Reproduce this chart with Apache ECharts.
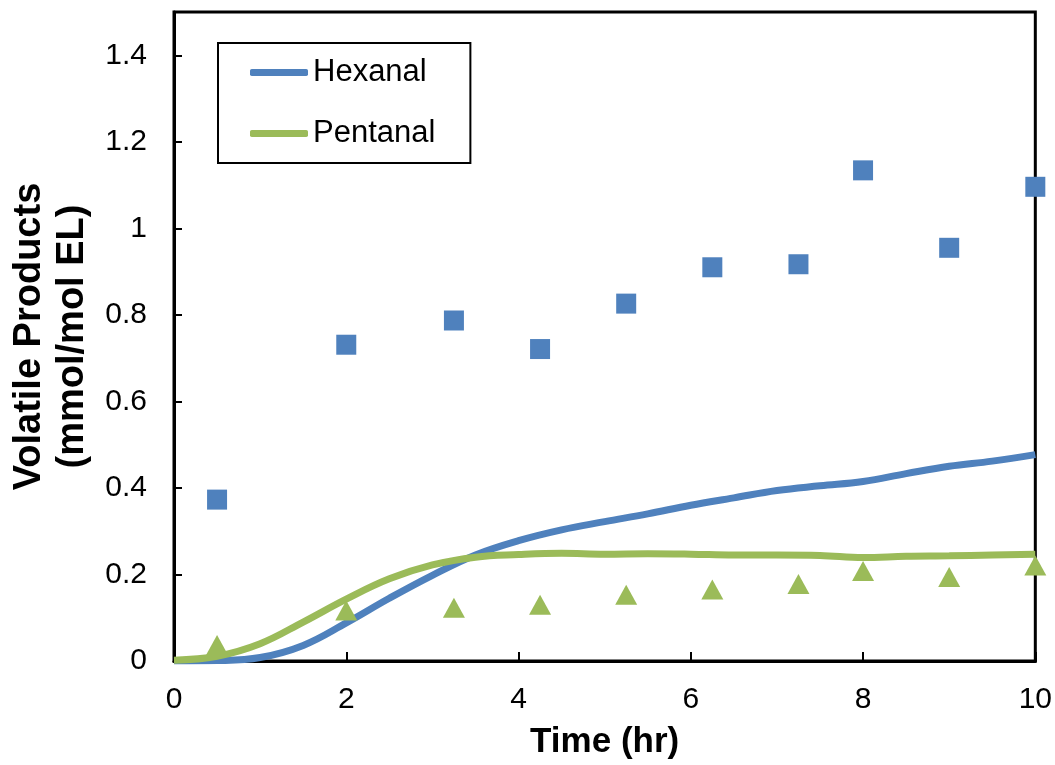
<!DOCTYPE html>
<html>
<head>
<meta charset="utf-8">
<script src="https://cdn.jsdelivr.net/npm/echarts@6/dist/echarts.min.js"></script>
<style>
  html, body { margin: 0; padding: 0; background: #fff; }
  #chart { width: 1055px; height: 765px; }
</style>
</head>
<body>
<div id="chart"></div>
<script>
// Measured volatile products (mmol/mol EL) against time (hr)
const hexanalTimes = [0.5, 2, 3.25, 4.25, 5.25, 6.25, 7.25, 8, 9, 10];
const hexanalMeasured = [0.373, 0.731, 0.787, 0.721, 0.826, 0.910, 0.917, 1.134, 0.955, 1.096];
const pentanalTimes = [0.5, 2, 3.25, 4.25, 5.25, 6.25, 7.25, 8, 9, 10];
const pentanalMeasured = [0.037, 0.117, 0.123, 0.130, 0.153, 0.165, 0.178, 0.208, 0.194, 0.221];

// Model curves
const modelTimes = [0, 0.5, 1, 1.5, 2, 2.5, 3, 3.5, 4, 4.5, 5, 5.5, 6, 6.5, 7, 7.5, 8, 8.5, 9, 9.5, 10];
const hexanalModel = [0, 0.001, 0.008, 0.036, 0.088, 0.145, 0.198, 0.245, 0.278, 0.303, 0.322, 0.340, 0.360, 0.377, 0.394, 0.405, 0.415, 0.433, 0.450, 0.462, 0.477];
const pentanalModel = [0.002, 0.011, 0.040, 0.090, 0.143, 0.190, 0.222, 0.240, 0.246, 0.249, 0.247, 0.248, 0.247, 0.245, 0.245, 0.244, 0.239, 0.242, 0.243, 0.245, 0.247];

const xTicks = { min: 0, max: 10, interval: 2 };
const yTicks = { min: 0, max: 1.5, interval: 0.2 };

const BLUE = '#4F81BD';
const GREEN = '#9BBB59';
const FONT = '"Liberation Sans", Arial, sans-serif';

const zip = (xs, ys) => xs.map((x, i) => [x, ys[i]]);

const chart = echarts.init(document.getElementById('chart'), null, { renderer: 'canvas' });
chart.setOption({
  animation: false,
  backgroundColor: '#fff',
  grid: {
    left: 170, top: 12, right: 19, bottom: 104,
    show: true, borderColor: '#000', borderWidth: 3, backgroundColor: 'transparent'
  },
  legend: {
    data: ['Hexanal', 'Pentanal'],
    orient: 'vertical',
    left: 218, top: 43,
    padding: [14, 35, 14, 32],
    itemGap: 30,
    itemWidth: 58,
    itemHeight: 7,
    icon: 'roundRect',
    borderColor: '#000',
    borderWidth: 2,
    textStyle: { fontFamily: FONT, fontSize: 31, lineHeight: 31, color: '#000' }
  },
  xAxis: {
    type: 'value',
    min: xTicks.min, max: xTicks.max, interval: xTicks.interval,
    name: 'Time (hr)',
    nameLocation: 'middle',
    nameGap: 64,
    nameTextStyle: { fontFamily: FONT, fontSize: 35, fontWeight: 'bold', color: '#000' },
    axisLine: { lineStyle: { color: '#000', width: 3 } },
    axisTick: { inside: true, length: 9, lineStyle: { color: '#000', width: 2 } },
    axisLabel: { margin: 24, fontFamily: FONT, fontSize: 30, color: '#000' },
    splitLine: { show: false }
  },
  yAxis: {
    type: 'value',
    min: yTicks.min, max: yTicks.max, interval: yTicks.interval,
    name: 'Volatile Products\n(mmol/mol EL)',
    nameLocation: 'middle',
    nameGap: 80,
    nameTextStyle: { fontFamily: FONT, fontSize: 38, fontWeight: 'bold', color: '#000', lineHeight: 43, align: 'center' },
    axisLine: { lineStyle: { color: '#000', width: 3 } },
    axisTick: { inside: true, length: 8, lineStyle: { color: '#000', width: 2 } },
    axisLabel: {
      margin: 27, fontFamily: FONT, fontSize: 30, color: '#000', showMaxLabel: false,
      formatter: v => (Math.round(v * 10) / 10).toString()
    },
    splitLine: { show: false }
  },
  series: [
    {
      name: 'Hexanal', type: 'line', data: zip(modelTimes, hexanalModel),
      smooth: 0.4, showSymbol: false, symbol: 'none',
      itemStyle: { color: BLUE },
      lineStyle: { color: BLUE, width: 7 }, z: 2
    },
    {
      name: 'Pentanal', type: 'line', data: zip(modelTimes, pentanalModel),
      smooth: 0.4, showSymbol: false, symbol: 'none',
      itemStyle: { color: GREEN },
      lineStyle: { color: GREEN, width: 7 }, z: 3
    },
    {
      name: 'Hexanal data', type: 'scatter', data: zip(hexanalTimes, hexanalMeasured),
      symbol: 'rect', symbolSize: 20, clip: false,
      itemStyle: { color: BLUE, opacity: 1 }, z: 4
    },
    {
      name: 'Pentanal data', type: 'scatter', data: zip(pentanalTimes, pentanalMeasured),
      symbol: 'triangle', symbolSize: [22, 20], clip: false,
      itemStyle: { color: GREEN, opacity: 1 }, z: 5
    }
  ]
});
</script>
</body>
</html>
